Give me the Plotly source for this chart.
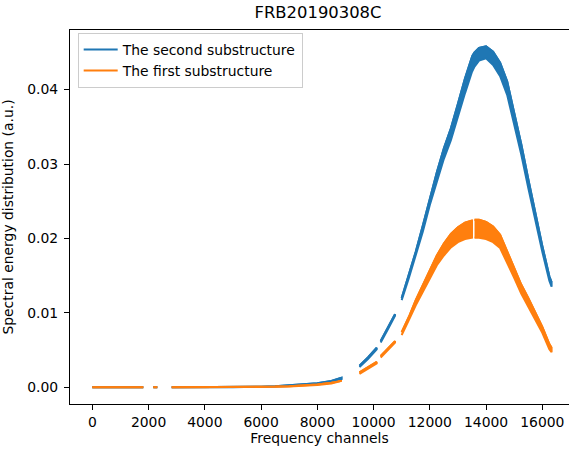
import plotly.graph_objects as go

# Channel positions (None = missing channels / gap between segments)
channels = [0, 500, 1000, 1500, 1813, None,
            2169, 2311, None,
            2822, 3500, 4000, 4500, 5000, 5500, 6000, 6500, 7000, 7500, 8000, 8500, 8867, None,
            9500, 9800, 10112, None,
            10254, 10500, 10763, None,
            11000, 11250, 11500, 11750, 12000, 12250, 12500, 12750, 13000, 13250, 13500, 13520, 13590,
            13750, 14000, 14250, 14500, 14750, 15000, 15250, 15500, 15750, 16000, 16250, 16330]

# The second substructure: lower / upper envelope of the noisy spectrum
second_low = [0, 0, 0, 0, 0, None,
              0, 0, None,
              0, 0, 0, 0, 0.00001, 0.00002, 0.00004, 0.00009, 0.00017, 0.00028, 0.00046, 0.00075, 0.00112, None,
              0.0027, 0.0038, 0.0051, None,
              0.0060, 0.0077, 0.0096, None,
              0.0117, 0.0146, 0.0176, 0.0209, 0.0245, 0.0277, 0.0307, 0.0332, 0.0363, 0.0395, 0.0424, 0.0426, 0.0431,
              0.0439, 0.0442, 0.0433, 0.0418, 0.0393, 0.0353, 0.0313, 0.0268, 0.0223, 0.0182, 0.0143, 0.0135]
second_high = [0, 0, 0, 0, 0, None,
               0, 0, None,
               0, 0, 0, 0.00001, 0.00003, 0.00005, 0.00007, 0.00012, 0.00023, 0.00034, 0.00054, 0.00085, 0.00128, None,
               0.0029, 0.0040, 0.0053, None,
               0.0062, 0.0079, 0.0098, None,
               0.0120, 0.0150, 0.0182, 0.0217, 0.0255, 0.0289, 0.0321, 0.0348, 0.0381, 0.0415, 0.0444, 0.0446, 0.0450,
               0.0456, 0.0458, 0.0451, 0.0436, 0.0411, 0.0369, 0.0327, 0.0280, 0.0233, 0.0190, 0.0149, 0.0141]

# The first substructure (missing channels near 13520 leave a thin notch)
first_low = [0, 0, 0, 0, 0, None,
             0, 0, None,
             0, 0, 0, 0, 0, 0.00001, 0.00003, 0.00006, 0.0001, 0.00017, 0.00029, 0.00050, 0.00075, None,
             0.0018, 0.0025, 0.0032, None,
             0.0040, 0.0049, 0.0060, None,
             0.0070, 0.0090, 0.0110, 0.0129, 0.0146, 0.0164, 0.0177, 0.0188, 0.0195, 0.0199, 0.0201, None, 0.0201,
             0.0201, 0.0199, 0.0195, 0.0187, 0.0168, 0.0147, 0.0126, 0.0109, 0.0091, 0.0073, 0.0051, 0.0047]
first_high = [0, 0, 0, 0, 0, None,
              0, 0, None,
              0, 0, 0, 0, 0.00001, 0.00003, 0.00005, 0.00008, 0.00014, 0.00023, 0.00037, 0.00060, 0.00085, None,
              0.0020, 0.0027, 0.0034, None,
              0.0042, 0.0051, 0.0062, None,
              0.0074, 0.0094, 0.0117, 0.0137, 0.0157, 0.0177, 0.0193, 0.0206, 0.0215, 0.0221, 0.0224, None, 0.0225,
              0.0225, 0.0222, 0.0216, 0.0205, 0.0183, 0.0160, 0.0138, 0.0120, 0.0101, 0.0081, 0.0058, 0.0053]

x_ticks = [0, 2000, 4000, 6000, 8000, 10000, 12000, 14000, 16000]
y_ticks = [0.00, 0.01, 0.02, 0.03, 0.04]

BLUE = "#1f77b4"
ORANGE = "#ff7f0e"
FONT = "DejaVu Sans"
FS = 13.9
LW = 2


def band_polygon(x, lo, hi):
    px, py = [], []
    sx, slo, shi = [], [], []
    for xi, l, h in list(zip(x, lo, hi)) + [(None, None, None)]:
        if xi is None or l is None or h is None:
            if sx:
                px += sx + sx[::-1] + [None]
                py += shi + slo[::-1] + [None]
            sx, slo, shi = [], [], []
        else:
            sx.append(xi); slo.append(l); shi.append(h)
    return px, py


fig = go.Figure()
for name, lo, hi, col in [("The second substructure", second_low, second_high, BLUE),
                          ("The first substructure", first_low, first_high, ORANGE)]:
    px, py = band_polygon(channels, lo, hi)
    fig.add_trace(go.Scatter(x=px, y=py, mode="lines", fill="toself", fillcolor=col,
                             line=dict(color=col, width=LW), showlegend=False, hoverinfo="skip"))
    fig.add_trace(go.Scatter(x=channels, y=hi, mode="lines", name=name,
                             line=dict(color=col, width=LW), connectgaps=False))

fig.update_layout(
    width=569, height=449,
    margin=dict(l=70, r=0, t=30, b=45),
    plot_bgcolor="white", paper_bgcolor="white",
    font=dict(family=FONT, size=FS, color="black"),
    title=dict(text="FRB20190308C", font=dict(family=FONT, size=16.4, color="black"),
               x=0.497, xref="paper", xanchor="center",
               y=1 - 12.5 / 449, yref="container", yanchor="middle"),
    legend=dict(x=0.0154, y=0.992, xanchor="left", yanchor="top",
                bgcolor="rgba(255,255,255,0.8)", bordercolor="#cccccc", borderwidth=1,
                font=dict(family=FONT, size=FS, color="black"), tracegroupgap=0,
                itemwidth=34),
    showlegend=True,
)
fig.update_xaxes(range=[-793, 16949], tickvals=x_ticks, ticktext=[str(v) for v in x_ticks],
                 showgrid=False, zeroline=False, showline=True, linecolor="black", linewidth=1,
                 mirror=True, ticks="outside", ticklen=5, tickcolor="black", tickwidth=1,
                 tickfont=dict(family=FONT, size=FS, color="black"),
                 title=dict(text="Frequency channels", font=dict(family=FONT, size=FS, color="black"), standoff=2))
fig.update_yaxes(range=[-0.002258, 0.04801], tickvals=y_ticks, ticktext=["%.2f" % v for v in y_ticks],
                 showgrid=False, zeroline=False, showline=True, linecolor="black", linewidth=1,
                 mirror=False, ticks="outside", ticklen=5, tickcolor="black", tickwidth=1,
                 ticklabelstandoff=3,
                 tickfont=dict(family=FONT, size=FS, color="black"),
                 title=dict(text="Spectral energy distribution (a.u.)", font=dict(family=FONT, size=FS, color="black"), standoff=11))

fig.write_html("out.html")
